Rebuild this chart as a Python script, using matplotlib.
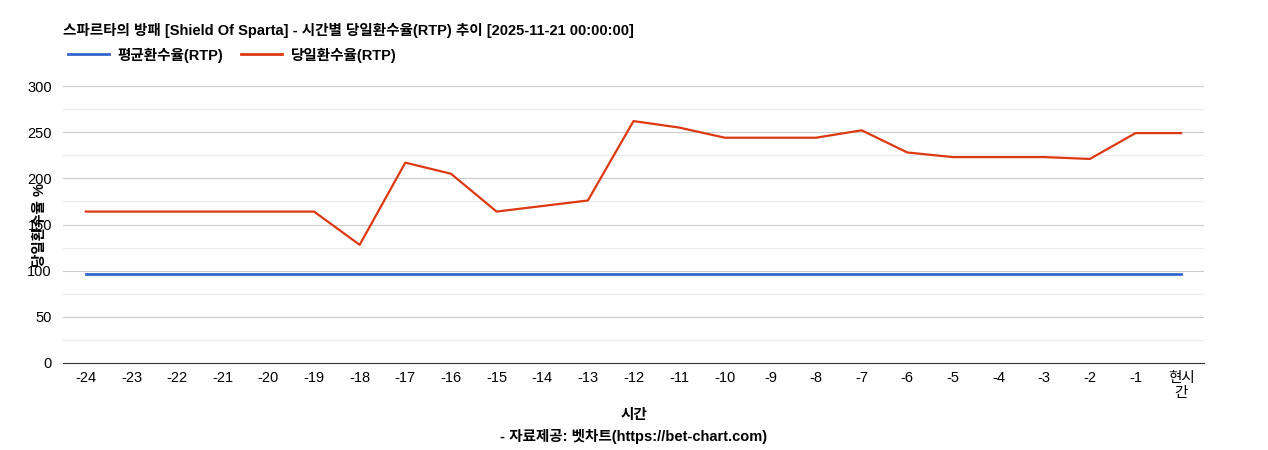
import matplotlib
matplotlib.use('Agg')
import matplotlib.pyplot as plt
from matplotlib.lines import Line2D

plt.rcParams['font.family'] = ['Liberation Sans', 'Noto Sans CJK KR', 'DejaVu Sans']

hours = ['-24', '-23', '-22', '-21', '-20', '-19', '-18', '-17', '-16', '-15', '-14', '-13',
         '-12', '-11', '-10', '-9', '-8', '-7', '-6', '-5', '-4', '-3', '-2', '-1', '현시\n간']
avg_rtp = [96] * 25
day_rtp = [164, 164, 164, 164, 164, 164, 128, 217, 205, 164, 170, 176,
           262, 255, 244, 244, 244, 252, 228, 223, 223, 223, 221, 249, 249]

fig = plt.figure(figsize=(12.68, 4.5), dpi=100)
ax = fig.add_axes([63 / 1268, 1 - 363 / 450, (1204 - 63) / 1268, (363 - 86) / 450])

x = list(range(len(hours)))
ax.plot(x, avg_rtp, color='#3366cc', lw=2)
ax.plot(x, day_rtp, color='#dc3912', lw=1.6)

ax.set_xlim(-0.5, len(hours) - 0.5)
ax.set_ylim(0, 300)
ax.set_yticks(range(0, 301, 50))
ax.set_yticks(range(25, 300, 50), minor=True)
ax.grid(axis='y', which='major', color='#cccccc', lw=0.8)
ax.grid(axis='y', which='minor', color='#ebebeb', lw=0.8)
ax.set_axisbelow(True)
ax.set_xticks(x)
ax.set_xticklabels(hours, fontsize=10.5, linespacing=1.1)
ax.tick_params(axis='y', which='both', labelsize=10.5, length=0, pad=8)
ax.tick_params(axis='x', length=0, pad=6)
for s in ['top', 'right', 'left']:
    ax.spines[s].set_visible(False)
ax.spines['bottom'].set_color('#333333')

fig.text(40 / 1268, 1 - 225 / 450, '당일환수율 %', rotation=90, ha='center', va='center',
         fontsize=10.5, fontweight='bold')
fig.text(0.5, 1 - 415 / 450, '시간', ha='center', va='center', fontsize=10.5, fontweight='bold')
fig.text(0.5, 1 - 437 / 450, '- 자료제공: 벳차트(https://bet-chart.com)', ha='center', va='center',
         fontsize=10.5, fontweight='bold')
fig.text(63 / 1268, 1 - 30 / 450, '스파르타의 방패 [Shield Of Sparta] - 시간별 당일환수율(RTP) 추이 [2025-11-21 00:00:00]',
         ha='left', va='center', fontsize=10.5, fontweight='bold')

handles = [Line2D([], [], color='#3366cc', lw=2), Line2D([], [], color='#dc3912', lw=2)]
fig.legend(handles, ['평균환수율(RTP)', '당일환수율(RTP)'], loc='center left',
           bbox_to_anchor=(55 / 1268, 1 - 55 / 450), ncol=2, frameon=False,
           prop={'weight': 'bold', 'size': 10.5}, handlelength=2.8, handletextpad=0.6,
           columnspacing=1.2)

fig.savefig('out.png', dpi=100)
